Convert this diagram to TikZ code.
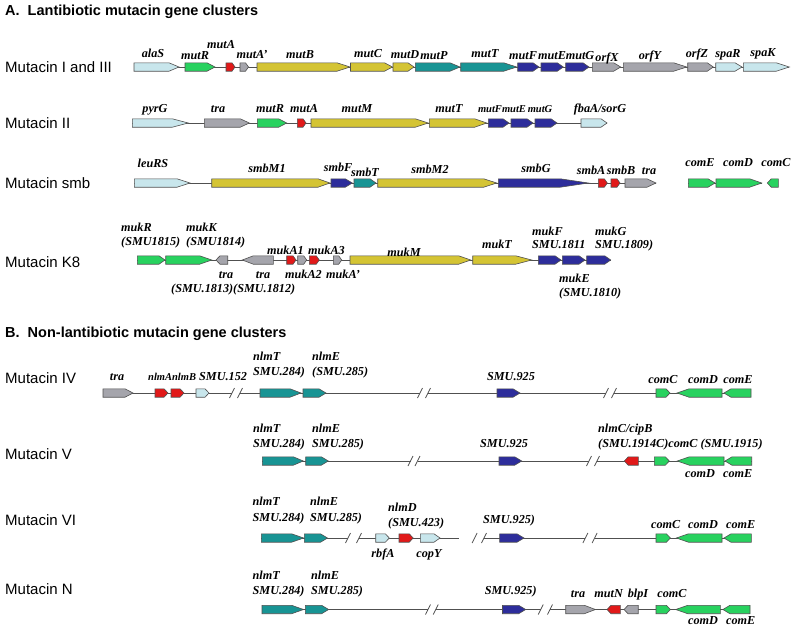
\documentclass[tikz,border=0pt]{standalone}
\usepackage{fontspec}
\setmainfont{Liberation Serif}
\newfontfamily\arialf{Liberation Sans}
\definecolor{cLB}{RGB}{200,230,236}
\definecolor{cGR}{RGB}{40,210,95}
\definecolor{cRD}{RGB}{225,25,25}
\definecolor{cGY}{RGB}{165,165,172}
\definecolor{cYL}{RGB}{212,196,52}
\definecolor{cTL}{RGB}{24,148,148}
\definecolor{cNV}{RGB}{45,45,155}
\definecolor{cLN}{RGB}{80,80,80}
\newcommand\ghh{4.2}
\newcommand\GR[5]{\filldraw[gene,fill=#5] (#1,{#3-\ghh}) -- ({#2-#4},{#3-\ghh}) -- (#2,#3) -- ({#2-#4},{#3+\ghh}) -- (#1,{#3+\ghh}) -- cycle;}
\newcommand\GL[5]{\filldraw[gene,fill=#5] (#1,#3) -- ({#1+#4},{#3-\ghh}) -- (#2,{#3-\ghh}) -- (#2,{#3+\ghh}) -- ({#1+#4},{#3+\ghh}) -- cycle;}
\newcommand\BRK[3]{\draw[brk] ({#1-2.5},{#3+5}) -- ({#1+2.5},{#3-5}); \draw[brk] ({#2-2.5},{#3+5}) -- ({#2+2.5},{#3-5});}
\newcommand\LC[3]{\node[glab,anchor=base] at (#1,#2) {#3};}
\newcommand\LS[3]{\node[glab,anchor=base,font=\fontsize{10.5}{12}\selectfont\bfseries\itshape] at (#1,#2) {#3};}
\newcommand\LSW[3]{\node[glab,anchor=base west,font=\fontsize{10.5}{12}\selectfont\bfseries\itshape] at (#1,#2) {#3};}
\newcommand\LW[3]{\node[glab,anchor=base west] at (#1,#2) {#3};}
\newcommand\RL[2]{\node[rlab] at (5,#1) {#2};}
\begin{document}
\begin{tikzpicture}[x=1pt,y=-1pt,
  gene/.style={draw=cLN,line width=0.6pt,line join=miter},
  bb/.style={draw=cLN,line width=0.8pt},
  brk/.style={draw=cLN,line width=0.8pt},
  glab/.style={inner sep=0pt,font=\fontsize{12.2}{13}\selectfont\bfseries\itshape},
  rlab/.style={inner sep=0pt,anchor=base west,font=\arialf\fontsize{15}{16}\selectfont},
  ttl/.style={inner sep=0pt,anchor=base west,font=\arialf\bfseries\fontsize{14.5}{15}\selectfont}]
\useasboundingbox (0,0) rectangle (800,627);
\clip (0,0) rectangle (800,627);
\fill[white] (0,0) rectangle (800,627);
% titles
\node[ttl] at (5,15) {A.\ \ Lantibiotic mutacin gene clusters};
\node[ttl] at (5,337) {B.\ \ Non-lantibiotic mutacin gene clusters};
% row labels
\RL{72}{Mutacin I and III}
\RL{128}{Mutacin II}
\RL{188}{Mutacin smb}
\RL{267}{Mutacin K8}
\RL{383}{Mutacin IV}
\RL{459}{Mutacin V}
\RL{525}{Mutacin VI}
\RL{594}{Mutacin N}
%% Row 1
\draw[bb] (134,67) -- (789,67);
\GR{134}{179}{67}{10}{cLB}
\GR{185}{215}{67}{8}{cGR}
\GR{226}{235}{67}{3}{cRD}
\GR{240}{248.5}{67}{3}{cGY}
\GR{257}{350}{67}{13}{cYL}
\GR{350.5}{392.5}{67}{8}{cYL}
\GR{393}{414}{67}{6}{cYL}
\GR{415.3}{460}{67}{10}{cTL}
\GR{460.7}{516.7}{67}{13}{cTL}
\GR{517.7}{539}{67}{6}{cNV}
\GR{541}{563.3}{67}{6}{cNV}
\GR{565.7}{589}{67}{6}{cNV}
\GR{592.3}{620.7}{67}{7}{cGY}
\GR{623.3}{686.7}{67}{13}{cGY}
\GR{687.7}{713.3}{67}{6}{cGY}
\GR{715.7}{742}{67}{7}{cLB}
\GR{743.3}{789.3}{67}{13}{cLB}
\LC{153}{57}{alaS}
\LC{195}{59}{mutR}
\LC{221}{48}{mutA}
\LC{252}{58}{mutA'}
\LC{300}{58}{mutB}
\LC{368}{57}{mutC}
\LC{405}{58}{mutD}
\LC{434}{59}{mutP}
\LC{485}{57}{mutT}
\LC{523}{59}{mutF}
\LC{552}{59}{mutE}
\LC{580}{59}{mutG}
\LC{607}{61}{orfX}
\LC{650}{59}{orfY}
\LC{697}{57}{orfZ}
\LC{728}{57}{spaR}
\LC{763}{56}{spaK}
%% Row 2
\draw[bb] (132,123) -- (607,123);
\GR{132.3}{188.3}{123}{16}{cLB}
\GR{204.3}{249.3}{123}{9}{cGY}
\GR{257.3}{286.7}{123}{8}{cGR}
\GR{297.3}{306}{123}{3}{cRD}
\GR{311}{428.3}{123}{13}{cYL}
\GR{429.3}{486.7}{123}{12}{cYL}
\GR{488.3}{509}{123}{6}{cNV}
\GR{511}{533}{123}{6}{cNV}
\GR{535}{557}{123}{6}{cNV}
\GR{581}{607}{123}{6}{cLB}
\LC{155}{112}{pyrG}
\LC{218}{112}{tra}
\LC{270}{112}{mutR}
\LC{304}{112}{mutA}
\LC{357}{112}{mutM}
\LC{449}{112}{mutT}
\LS{490}{112}{mutF}
\LS{514}{112}{mutE}
\LS{540}{112}{mutG}
\LC{600}{112}{fbaA/sorG}
%% Row 3
\draw[bb] (134,183) -- (656,183);
\GR{134.3}{190}{183}{13}{cLB}
\GR{211.7}{330}{183}{12}{cYL}
\GR{331}{352.3}{183}{7}{cNV}
\GR{354}{376}{183}{6}{cTL}
\GR{377.7}{496.7}{183}{13}{cYL}
\GR{498.3}{588.3}{183}{28}{cNV}
\GR{598.3}{607.3}{183}{3}{cRD}
\GR{611}{620}{183}{3}{cRD}
\GR{625}{656}{183}{9}{cGY}
\draw[bb] (688,183) -- (762,183);
\GR{688.3}{715}{183}{7}{cGR}
\GR{716}{761.7}{183}{12}{cGR}
\GL{767.3}{778.3}{183}{4}{cGR}
\LC{153}{167}{leuRS}
\LC{267}{172}{smbM1}
\LC{338}{171}{smbF}
\LC{365}{176}{smbT}
\LC{430}{173}{smbM2}
\LC{536}{172}{smbG}
\LC{591}{174}{smbA}
\LC{621}{174}{smbB}
\LC{649}{174}{tra}
\LC{700}{166}{comE}
\LC{738}{166}{comD}
\LC{776}{166}{comC}
%% Row 4
\draw[bb] (137,260) -- (611,260);
\GR{137.3}{165}{260}{6}{cGR}
\GR{165.7}{211.7}{260}{12}{cGR}
\GL{216}{227.7}{260}{4}{cGY}
\GL{242.3}{273.3}{260}{11}{cGY}
\GR{286.7}{296}{260}{3}{cRD}
\GR{297.7}{306.7}{260}{3}{cGY}
\GR{309.3}{319.3}{260}{3}{cRD}
\GR{333.3}{341.7}{260}{3}{cGY}
\GR{350}{470.7}{260}{12}{cYL}
\GR{472.7}{531.7}{260}{16}{cYL}
\GR{538.3}{561}{260}{6}{cNV}
\GR{562.3}{585}{260}{6}{cNV}
\GR{586.7}{610.7}{260}{6}{cNV}
\LW{121}{231}{mukR}
\LW{121}{245}{(SMU1815)}
\LW{186}{231}{mukK}
\LW{186}{245}{(SMU1814)}
\LW{267}{254}{mukA1}
\LW{308}{254}{mukA3}
\LC{404}{256}{mukM}
\LC{497}{248}{mukT}
\LW{532}{235}{mukF}
\LW{532}{248}{SMU.1811}
\LW{595}{235}{mukG}
\LW{595}{248}{SMU.1809)}
\LC{226}{278}{tra}
\LC{263}{278}{tra}
\LW{171}{292}{(SMU.1813)(SMU.1812)}
\LW{285}{278}{mukA2}
\LW{326}{278}{mukA'}
\LW{559}{282}{mukE}
\LW{559}{296}{(SMU.1810)}
%% Row 5 (Mutacin IV)
\draw[bb] (103,393) -- (232,393);
\draw[bb] (240,393) -- (420,393);
\draw[bb] (428,393) -- (606,393);
\draw[bb] (614,393) -- (751,393);
\BRK{232}{240}{393}
\BRK{420}{428}{393}
\BRK{606}{614}{393}
\GR{103}{133}{393}{8}{cGY}
\GR{155}{168}{393}{4}{cRD}
\GR{171}{184}{393}{4}{cRD}
\GR{196}{209}{393}{4}{cLB}
\GR{260}{301}{393}{11}{cTL}
\GR{303}{326}{393}{7}{cTL}
\GR{497}{520}{393}{7}{cNV}
\GR{656}{670}{393}{4}{cGR}
\GL{677}{722}{393}{12}{cGR}
\GL{724}{751}{393}{7}{cGR}
\LC{117}{380}{tra}
\LSW{148}{380}{nlmAnlmB}
\LW{199}{380}{SMU.152}
\LW{253}{360}{nlmT}
\LW{253}{375}{SMU.284)}
\LW{312}{360}{nlmE}
\LW{312}{375}{(SMU.285)}
\LC{511}{380}{SMU.925}
\LC{663}{383}{comC}
\LC{703}{383}{comD}
\LC{738}{383}{comE}
%% Row 6 (Mutacin V)
\draw[bb] (262,461) -- (410.5,461);
\draw[bb] (417.5,461) -- (589,461);
\draw[bb] (597,461) -- (752,461);
\BRK{410.5}{417.5}{461}
\BRK{589}{597}{461}
\GR{262.3}{303.3}{461}{10}{cTL}
\GR{305.7}{328.3}{461}{7}{cTL}
\GR{499}{521.7}{461}{7}{cNV}
\GL{624.3}{638.3}{461}{4}{cRD}
\GR{654.3}{669.3}{461}{4}{cGR}
\GL{677.3}{724}{461}{12}{cGR}
\GL{725}{751.7}{461}{7}{cGR}
\LW{253}{432}{nlmT}
\LW{253}{447}{SMU.284)}
\LW{312}{432}{nlmE}
\LW{312}{447}{SMU.285)}
\LW{480}{447}{SMU.925}
\LW{598}{432}{nlmC/cipB}
\LW{598}{447}{(SMU.1914C)comC (SMU.1915)}
\LW{685}{477}{comD}
\LW{723}{477}{comE}
%% Row 7 (Mutacin VI)
\draw[bb] (261,538) -- (348,538);
\draw[bb] (359,538) -- (458.6,538);
\draw[bb] (484,538) -- (585.4,538);
\draw[bb] (594.6,538) -- (751.4,538);
\BRK{348}{359}{538}
\BRK{474.6}{484}{538}
\BRK{585.4}{594.6}{538}
\GR{261.4}{303.6}{538}{12}{cTL}
\GR{304.3}{327.5}{538}{7}{cTL}
\GR{375.7}{389.3}{538}{4}{cLB}
\GR{399}{413.2}{538}{4}{cRD}
\GR{420.4}{440}{538}{6}{cLB}
\GR{499.6}{524}{538}{7}{cNV}
\GR{656}{670.4}{538}{4}{cGR}
\GL{676.4}{722}{538}{12}{cGR}
\GL{724}{751.4}{538}{7}{cGR}
\LW{252.5}{505}{nlmT}
\LW{252.5}{521}{SMU.284)}
\LW{310}{505}{nlmE}
\LW{310}{521}{SMU.285)}
\LW{388}{511}{nlmD}
\LW{388}{526}{(SMU.423)}
\LW{483}{523}{SMU.925)}
\LW{651}{528}{comC}
\LW{688}{528}{comD}
\LW{726}{528}{comE}
\LC{383}{557}{rbfA}
\LC{429}{557}{copY}
%% Row 8 (Mutacin N)
\draw[bb] (262,609.5) -- (428,609.5);
\draw[bb] (435.7,609.5) -- (540.7,609.5);
\draw[bb] (550,609.5) -- (750,609.5);
\BRK{428}{435.7}{609.5}
\BRK{540.7}{550}{609.5}
\GR{262}{303.6}{609.5}{12}{cTL}
\GR{305.4}{328.6}{609.5}{7}{cTL}
\GR{502.5}{525.7}{609.5}{7}{cNV}
\GR{565.7}{595.4}{609.5}{11}{cGY}
\GL{607}{620.4}{609.5}{4}{cRD}
\GL{624}{638.2}{609.5}{4}{cGY}
\GR{656}{670.4}{609.5}{4}{cGR}
\GL{675.7}{720.4}{609.5}{12}{cGR}
\GL{722.9}{750}{609.5}{7}{cGR}
\LW{252.5}{579}{nlmT}
\LW{252.5}{594}{SMU.284)}
\LW{311}{579}{nlmE}
\LW{311}{594}{SMU.285)}
\LW{484.6}{594}{SMU.925)}
\LC{578}{597}{tra}
\LC{608.6}{597}{mutN}
\LC{638}{597}{blpI}
\LC{672}{597}{comC}
\LW{688}{624}{comD}
\LW{726}{624}{comE}
\end{tikzpicture}
\end{document}
